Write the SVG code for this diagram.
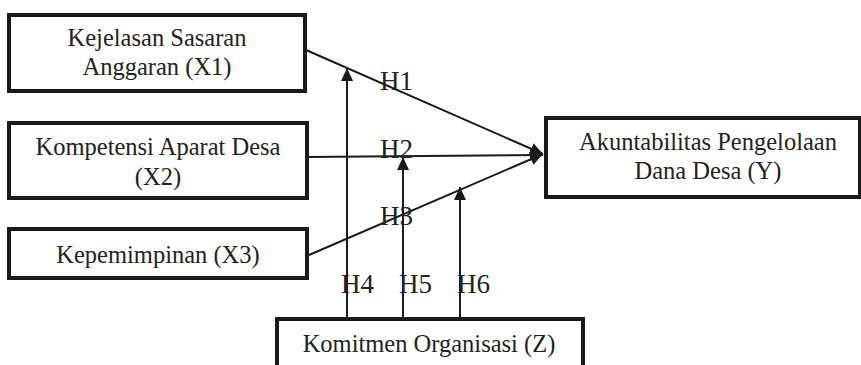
<svg xmlns="http://www.w3.org/2000/svg" width="861" height="365" viewBox="0 0 861 365">
<defs>
<style>
.box{fill:#fff;stroke:#1a1a1a;stroke-width:4}
.t{font-family:"Liberation Serif","Times New Roman",serif;font-size:24.5px;fill:#222;text-anchor:middle}
.h{font-family:"Liberation Serif","Times New Roman",serif;font-size:27px;fill:#222}
.c{stroke:#1a1a1a;stroke-width:2;fill:none;marker-end:url(#ah)}
</style>
<marker id="ah" markerUnits="userSpaceOnUse" markerWidth="14" markerHeight="12" refX="13" refY="6" orient="auto">
<path d="M0,0 L13,6 L0,12 z" fill="#1a1a1a"/>
</marker>
</defs>
<rect width="861" height="365" fill="#fff"/>
<g id="x1">
<rect class="box" x="9" y="15" width="296" height="76"/>
<text class="t" x="157" y="46">Kejelasan Sasaran</text>
<text class="t" x="157" y="75">Anggaran (X1)</text>
</g>
<g id="x2">
<rect class="box" x="9" y="123" width="298" height="75"/>
<text class="t" x="158" y="155">Kompetensi Aparat Desa</text>
<text class="t" x="158" y="185">(X2)</text>
</g>
<g id="x3">
<rect class="box" x="9" y="229" width="298" height="49"/>
<text class="t" x="158" y="263">Kepemimpinan (X3)</text>
</g>
<g id="y">
<rect class="box" x="546" y="118" width="314" height="79"/>
<text class="t" x="708" y="150">Akuntabilitas Pengelolaan</text>
<text class="t" x="708" y="179">Dana Desa (Y)</text>
</g>
<g id="z">
<rect class="box" x="277" y="319" width="306" height="60"/>
<text class="t" x="429" y="352">Komitmen Organisasi (Z)</text>
</g>
<g id="connectors">
<line class="c" x1="306" y1="50" x2="543" y2="154"/>
<line class="c" x1="308" y1="157" x2="543" y2="155"/>
<line class="c" x1="309" y1="255" x2="543" y2="154"/>
<line class="c" x1="347" y1="318" x2="347" y2="68"/>
<line class="c" x1="403" y1="318" x2="403" y2="157"/>
<line class="c" x1="460" y1="318" x2="460" y2="187"/>
</g>
<g id="labels">
<text class="h" x="380" y="90">H1</text>
<text class="h" x="380" y="158">H2</text>
<text class="h" x="380" y="225">H3</text>
<text class="h" x="341" y="293">H4</text>
<text class="h" x="399" y="293">H5</text>
<text class="h" x="457" y="293">H6</text>
</g>
</svg>
